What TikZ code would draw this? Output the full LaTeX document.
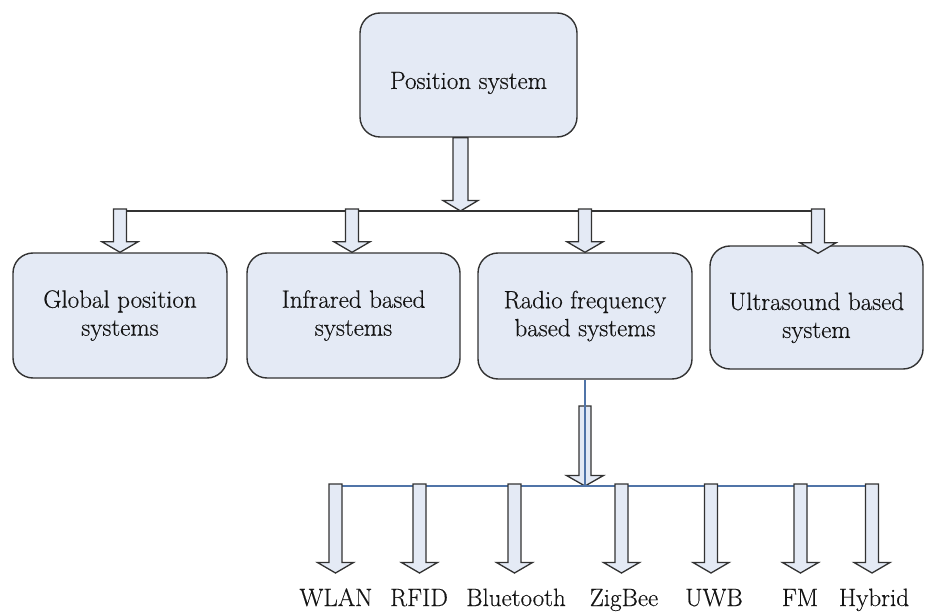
\documentclass[tikz,border=0pt]{standalone}
\usepackage{fontspec}
\setmainfont{Latin Modern Roman}[FakeBold=0.4]
\usetikzlibrary{calc}
\definecolor{boxfill}{RGB}{228,234,245}
\definecolor{boxline}{RGB}{50,50,50}
\definecolor{linkblue}{RGB}{80,116,168}
\definecolor{inkgray}{RGB}{20,20,20}

\begin{document}
\begin{tikzpicture}[x=1pt,y=-1pt,
  sysbox/.style={draw=boxline, fill=boxfill, line width=1.4pt, rounded corners=20pt,
    align=center, text=inkgray, inner sep=0pt,
    font=\fontsize{25}{28}\selectfont},
  % a zero-width strut on the first line lowers the text inside its box
  textdrop/.style={execute at begin node={\rule{0pt}{#1}}},
  tech/.style={anchor=base, text=inkgray, inner sep=0pt,
    font=\fontsize{25}{28}\selectfont},
  busline/.style={draw=boxline, line width=1.4pt},
  bluelink/.style={draw=linkblue, line width=1.3pt},
  % hollow block arrow pointing down: #1 = half shaft width, #2 = half head width
  blockarrow/.style 2 args={draw=boxline, fill=boxfill, line width=1.3pt,
    line join=miter,
    to path={let \p1=(\tikztostart), \p2=(\tikztotarget) in
      (\x1-#1,\y1) -- (\x1-#1,\y2+10.5pt) -- (\x1-#2,\y2+10.5pt) -- (\x1,\y2)
      -- (\x1+#2,\y2+10.5pt) -- (\x1+#1,\y2+10.5pt) -- (\x1+#1,\y1) -- cycle}},
  ]
\useasboundingbox (0,0) rectangle (925,612);

% top level
\node[sysbox, minimum width=217pt, minimum height=124pt, textdrop=33pt]
  (root) at (468.5,75) {Position system};

% second level
\node[sysbox, minimum width=214pt, minimum height=125pt, textdrop=38pt]
  (gps) at (120,315.5) {Global position\\systems};
\node[sysbox, minimum width=213pt, minimum height=125pt, textdrop=38pt]
  (ir) at (353.5,315.5) {Infrared based\\systems};
\node[sysbox, minimum width=214pt, minimum height=126pt, textdrop=37pt]
  (rf) at (585,316) {Radio frequency\\based systems};
\node[sysbox, minimum width=213pt, minimum height=123pt, textdrop=66pt]
  (us) at (816.5,307.5) {Ultrasound based\\system};

% upper bus
\coordinate (busjoin) at (460.5,211);
\coordinate (busW) at (113.5,211);
\coordinate (busE) at (824.5,211);
\draw[busline] (busW) -- (busE);
\draw[blockarrow={7.5pt}{17.5pt}] (root.south -| busjoin) to (busjoin);

\coordinate (gpsin) at (120,209);
\coordinate (irin) at (352,209);
\coordinate (rfin) at (585,209);
\coordinate (usin) at (818,209);
\draw[blockarrow={6.5pt}{18pt}] (gpsin) to (gps.north -| gpsin);
\draw[blockarrow={6.5pt}{18pt}] (irin) to (ir.north -| irin);
\draw[blockarrow={6.5pt}{18pt}] (rfin) to (rf.north -| rfin);
\draw[blockarrow={6.5pt}{18pt}] (usin) to ($(us.north -| usin)+(0,8)$);

% radio frequency branch
\coordinate (rfjoin) at (585,486);
\coordinate (rfarrow) at (585,406);
\draw[blockarrow={6pt}{18.5pt}] (rfarrow) to (rfjoin);
\draw[bluelink] (rf.south) -- (rfjoin);
\coordinate (lowW) at (336,486);
\coordinate (lowE) at (872,486);
\draw[bluelink] (lowW) -- (lowE);

\foreach \nm/\ax/\tx/\txt in {wlan/335.5/336/WLAN, rfid/419.5/419/RFID,
    bt/514.5/516/Bluetooth, zb/621.5/624/ZigBee, uwb/711/714/UWB,
    fm/800.5/800/FM, hyb/872/874/Hybrid}{
  \node[tech] (\nm) at (\tx,606) {\txt};
  \coordinate (\nm-in) at (\ax,484);
  \coordinate (\nm-tip) at (\ax,573);
  \draw[blockarrow={6.5pt}{18pt}] (\nm-in) to (\nm-tip);
}
\end{tikzpicture}
\end{document}
